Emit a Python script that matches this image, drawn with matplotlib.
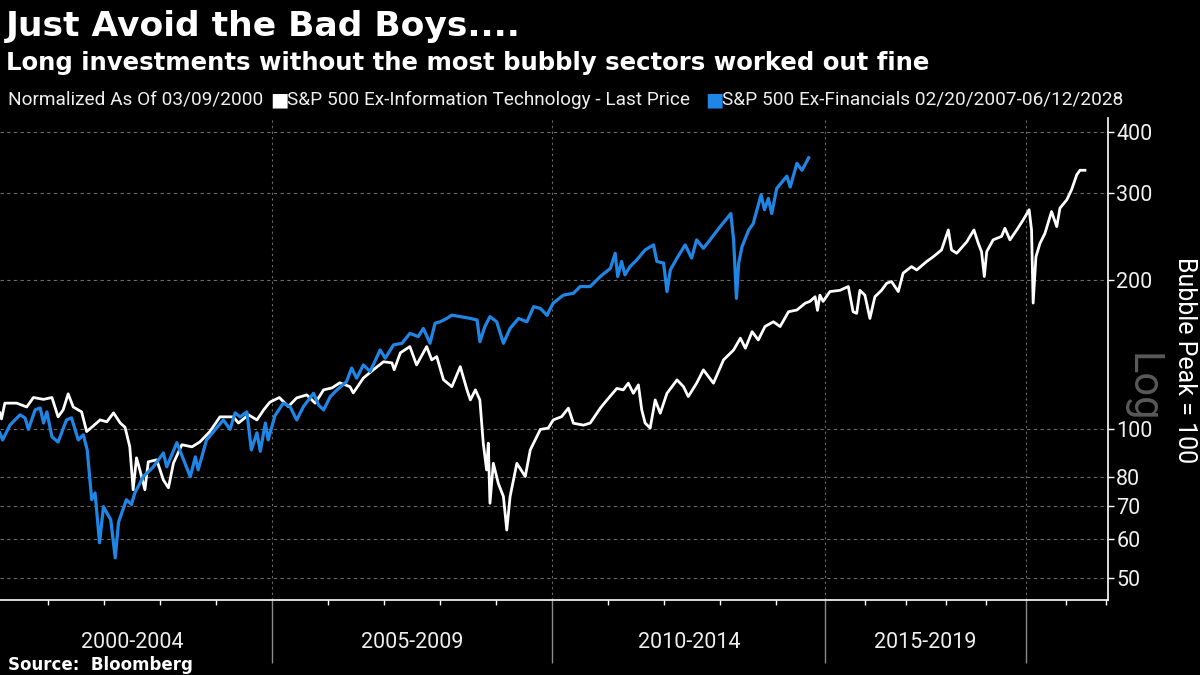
import numpy as np
import matplotlib
matplotlib.use('Agg')
from matplotlib import pyplot as plt
from matplotlib import ticker

# S&P 500 Ex-Information Technology, normalized (display year, value)
white_years = [2000.14, 2000.17, 2000.23, 2000.44, 2000.62, 2000.74, 2000.92, 2001.07, 2001.18, 2001.27,
               2001.36, 2001.45, 2001.60, 2001.69, 2001.78, 2001.93, 2002.05, 2002.17, 2002.29, 2002.375,
               2002.46, 2002.52, 2002.58, 2002.64, 2002.73, 2002.79, 2002.94, 2003.06, 2003.15, 2003.24,
               2003.39, 2003.57, 2003.71, 2003.89, 2004.07, 2004.31, 2004.40, 2004.58, 2004.73, 2004.85,
               2004.96, 2005.13, 2005.29, 2005.44, 2005.62, 2005.77, 2005.92, 2006.07, 2006.21, 2006.39,
               2006.45, 2006.63, 2006.81, 2006.99, 2007.14, 2007.18, 2007.29, 2007.46, 2007.58, 2007.76,
               2007.85, 2007.94, 2008.06, 2008.21, 2008.36, 2008.48, 2008.54, 2008.63, 2008.71, 2008.77,
               2008.83, 2008.86, 2008.89, 2008.95, 2009.04, 2009.13, 2009.19, 2009.25, 2009.37, 2009.52,
               2009.61, 2009.79, 2009.93, 2010.02, 2010.17, 2010.29, 2010.38, 2010.56, 2010.68, 2010.86,
               2010.98, 2011.155, 2011.27, 2011.36, 2011.45, 2011.54, 2011.60, 2011.66, 2011.75, 2011.84,
               2011.93, 2012.05, 2012.23, 2012.345, 2012.43, 2012.58, 2012.70, 2012.88, 2013.06, 2013.24,
               2013.36, 2013.45, 2013.57, 2013.68, 2013.80, 2013.95, 2014.07, 2014.22, 2014.37, 2014.52,
               2014.61, 2014.74, 2014.80, 2014.86, 2014.94, 2015.11, 2015.36, 2015.57, 2015.69, 2015.78,
               2015.86, 2015.985, 2016.11, 2016.235, 2016.40, 2016.53, 2016.65, 2016.82, 2016.94, 2017.15,
               2017.28, 2017.53, 2017.69, 2017.90, 2018.07, 2018.15, 2018.28, 2018.53, 2018.71, 2018.82,
               2018.90, 2018.97, 2019.03, 2019.19, 2019.40, 2019.485, 2019.61, 2019.78, 2019.94, 2020.09,
               2020.15, 2020.19, 2020.26, 2020.36, 2020.485, 2020.65, 2020.78, 2020.86, 2021.03, 2021.15,
               2021.28, 2021.36, 2021.485]
white_vals = [108, 105, 113, 113, 111, 116, 115, 116, 106, 109.5,
              118, 111, 108.5, 99, 101, 104.5, 103.6, 108, 103, 101,
              92.2, 75.5, 87.6, 82.8, 75.5, 86, 86.8, 79, 76.2, 85.5,
              93.1, 92.2, 94.3, 99, 106, 106, 103, 107, 104.5, 109.5,
              113.5, 116, 111.2, 115.8, 117.4, 113, 120.2, 121.3, 124.2, 122,
              118.5, 127, 132, 137, 136.3, 132, 142.8, 147, 135, 147,
              138.2, 140.3, 126, 122, 133.9, 120.2, 114.7, 120.2, 114.7, 93.8,
              82.8, 93.8, 70.9, 85.4, 77.7, 73.2, 62.6, 73.2, 85.4, 80.3,
              90.9, 100, 100.6, 104.5, 106.1, 110.4, 102.9, 102, 103, 110.4,
              114.7, 121, 120.2, 124, 118.3, 123, 109.5, 103, 100.6, 114.7,
              107.8, 118.3, 125.9, 122, 116.5, 124, 131.9, 124, 138.2, 144.7,
              152.9, 145.9, 157.6, 151.6, 161.4, 165, 161.4, 172.9, 174.3, 180,
              181.4, 185.4, 174, 186.8, 181.4, 189.9, 191, 194.4, 172.9, 171.6,
              191, 186.8, 167.6, 185.4, 191, 197.4, 199, 189.9, 206.9, 213.3,
              210, 218.5, 223.2, 230.5, 253, 230.5, 227, 239.4, 253, 237.6,
              228.7, 203.7, 228.7, 241.6, 245.5, 255, 241.6, 253, 265, 278,
              253, 180, 223.2, 237.6, 249, 275.6, 257, 280, 291, 305,
              327, 334, 334]

# S&P 500 Ex-Financials 02/20/2007-06/12/2028, shifted onto the same start (display year, value)
blue_years = [2000.14, 2000.19, 2000.32, 2000.50, 2000.59, 2000.65, 2000.77, 2000.86, 2000.92, 2000.98,
              2001.07, 2001.18, 2001.33, 2001.42, 2001.54, 2001.63, 2001.70, 2001.78, 2001.84, 2001.92,
              2001.99, 2002.05, 2002.12, 2002.20, 2002.26, 2002.40, 2002.49, 2002.55, 2002.70, 2002.88,
              2003.06, 2003.12, 2003.30, 2003.42, 2003.54, 2003.63, 2003.68, 2003.83, 2004.01, 2004.13,
              2004.25, 2004.34, 2004.43, 2004.55, 2004.63, 2004.73, 2004.79, 2004.88, 2004.93, 2005.05,
              2005.20, 2005.32, 2005.44, 2005.56, 2005.74, 2005.83, 2005.92, 2006.04, 2006.16, 2006.33,
              2006.42, 2006.51, 2006.63, 2006.75, 2006.93, 2007.02, 2007.17, 2007.32, 2007.46, 2007.61,
              2007.70, 2007.82, 2007.91, 2008.00, 2008.12, 2008.21, 2008.36, 2008.54, 2008.66, 2008.71,
              2008.80, 2008.89, 2009.01, 2009.13, 2009.25, 2009.40, 2009.55, 2009.67, 2009.79, 2009.91,
              2009.96, 2010.02, 2010.20, 2010.38, 2010.50, 2010.68, 2010.86, 2011.04, 2011.125, 2011.17,
              2011.24, 2011.30, 2011.39, 2011.51, 2011.66, 2011.81, 2011.87, 2011.99, 2012.05, 2012.11,
              2012.23, 2012.375, 2012.49, 2012.58, 2012.70, 2012.82, 2013.00, 2013.12, 2013.19, 2013.24,
              2013.29, 2013.33, 2013.39, 2013.51, 2013.59, 2013.73, 2013.79, 2013.86, 2013.92, 2014.01,
              2014.19, 2014.25, 2014.37, 2014.46, 2014.58]
blue_vals = [98.4, 95.2, 102, 107, 105.5, 100, 109.5, 110.5, 103, 108.5,
             96.6, 94.3, 104.5, 105.5, 95.2, 97.5, 90.9, 72.1, 74.4, 59,
             69.8, 67.8, 65.7, 55, 65, 72.1, 70.5, 74.4, 80.2, 84,
             89.6, 84, 94, 86.8, 80.2, 88, 82.8, 95.2, 100.7, 104.5,
             100, 108, 106, 108.5, 90.9, 98.4, 90.3, 103, 95.2, 106.5,
             113, 111.2, 104.5, 111.2, 118.3, 112, 109.5, 116.5, 120.2, 124.9,
             133, 126.9, 135, 130.9, 144.7, 139.3, 148.2, 149.3, 156.3, 154,
             160, 149.3, 163.9, 165, 167.6, 170.2, 169, 167.6, 166.4, 150.4,
             161.4, 169, 165, 149.3, 160, 167.6, 165, 177, 175.6, 170,
             174.8, 180, 186.8, 188.4, 194.4, 194.4, 203.7, 211.6, 227, 203.7,
             218.5, 205.3, 213.3, 220, 230.5, 236, 218.5, 216.8, 189.9, 210,
             222, 236, 222, 241.6, 232.3, 241.6, 257, 267, 273, 241.6,
             184, 216.8, 234, 253, 260.6, 298, 278, 293, 273, 307,
             325, 309, 345, 334, 354]

y_ticks = [50, 60, 70, 80, 100, 200, 300, 400]
period_edges = [2000, 2005, 2010, 2015, 2020]
period_labels = ['2000-2004', '2005-2009', '2010-2014', '2015-2019']
year_ticks = list(range(2001, 2023))

WHITE = '#ffffff'
BLUE = '#1f86e6'
GRID = '#6a6a6a'

# Bloomberg spaces points by the union of both series' dates, so after the blue
# series ends the calendar is packed tighter (5 trading days vs 7 shifted days)
brk = blue_years[-1]
k = 5.0 / 7.0


def fwd(x):
    x = np.asarray(x, dtype=float)
    return np.where(x <= brk, x, brk + (x - brk) * k)


def inv(u):
    u = np.asarray(u, dtype=float)
    return np.where(u <= brk, u, brk + (u - brk) / k)


fig = plt.figure(figsize=(12, 6.75), dpi=100, facecolor='black')
ax = fig.add_axes([0.0, 0.1111, 0.9233, 0.7141], facecolor='black')

ax.plot(white_years, white_vals, color=WHITE, lw=2.0, zorder=3)
ax.plot(blue_years, blue_vals, color=BLUE, lw=2.3, zorder=4)

ax.set_xscale('function', functions=(fwd, inv))
ax.set_yscale('log')
ax.set_xlim(2000.143, 2022.06)
ax.set_ylim(45.2, 426)

# y axis on the right
ax.yaxis.tick_right()
ax.yaxis.set_major_locator(ticker.FixedLocator(y_ticks))
ax.yaxis.set_major_formatter(ticker.FuncFormatter(lambda v, p: '%d' % v))
ax.yaxis.set_minor_locator(ticker.NullLocator())
ax.tick_params(axis='y', which='major', colors=WHITE, length=4, width=1, pad=2,
               labelsize=15.5, labelcolor='#f0f0f0')
for lab in ax.get_yticklabels():
    lab.set_family('Roboto')

# x axis: year ticks and long grey separators between periods
ax.xaxis.set_major_locator(ticker.FixedLocator(period_edges[1:]))
ax.xaxis.set_major_formatter(ticker.NullFormatter())
ax.xaxis.set_minor_locator(ticker.FixedLocator(year_ticks))
ax.xaxis.set_minor_formatter(ticker.NullFormatter())
ax.tick_params(axis='x', which='major', colors='#8a8a8a', length=45, width=1)
ax.tick_params(axis='x', which='minor', colors=WHITE, length=3.5, width=1)

ax.grid(axis='y', which='major', color=GRID, lw=0.8, ls=(0, (3, 3)))
ax.grid(axis='x', which='major', color=GRID, lw=0.8, ls=(0, (2, 3)))

for side in ['left', 'top']:
    ax.spines[side].set_visible(False)
for side in ['right', 'bottom']:
    ax.spines[side].set_color(WHITE)
    ax.spines[side].set_linewidth(1.2)

# period labels centred between separators
for a, b, lab in zip(period_edges[:-1], period_edges[1:], period_labels):
    xm = float(inv((fwd(a) + fwd(b)) / 2.0))
    ax.text(xm, -0.088, lab, transform=ax.get_xaxis_transform(), ha='center', va='center',
            fontsize=15.5, color='#eeeeee', family='Roboto')

# titles
fig.text(0.005, 0.946, 'Just Avoid the Bad Boys....', fontsize=24.8, fontweight='bold',
         color=WHITE, family='DejaVu Sans', ha='left', va='baseline')
fig.text(0.005, 0.896, 'Long investments without the most bubbly sectors worked out fine',
         fontsize=17.6, fontweight='bold', color=WHITE, family='DejaVu Sans',
         ha='left', va='baseline')

# legend row
ly = 1 - 100 / 675.
fig.text(8 / 1200., ly, 'Normalized As Of 03/09/2000', fontsize=13.7, color='#eeeeee',
         family='Roboto', ha='left', va='center')
fig.text(270 / 1200., ly, '\u25a0', fontsize=14, color=WHITE, family='DejaVu Sans',
         ha='left', va='center')
fig.text(287 / 1200., ly, 'S&P 500 Ex-Information Technology - Last Price', fontsize=13.7,
         color='#eeeeee', family='Roboto', ha='left', va='center')
fig.text(705 / 1200., ly, '\u25a0', fontsize=14, color=BLUE, family='DejaVu Sans',
         ha='left', va='center')
fig.text(722 / 1200., ly, 'S&P 500 Ex-Financials 02/20/2007-06/12/2028', fontsize=13.7,
         color='#eeeeee', family='Roboto', ha='left', va='center')

# right-side axis annotations
fig.text(1185 / 1200., 1 - 360 / 675., 'Bubble Peak = 100', rotation=270, fontsize=18,
         color=WHITE, family='Roboto', ha='center', va='center')
fig.text(1142 / 1200., 1 - 388 / 675., 'Log', rotation=270, fontsize=30,
         color='#5a5a5a', family='Roboto', ha='center', va='center')

fig.text(8 / 1200., 1 - 665 / 675., 'Source:  Bloomberg', fontsize=12, fontweight='bold',
         color=WHITE, family='DejaVu Sans', ha='left', va='center')

fig.savefig('out.png', dpi=100, facecolor='black')
